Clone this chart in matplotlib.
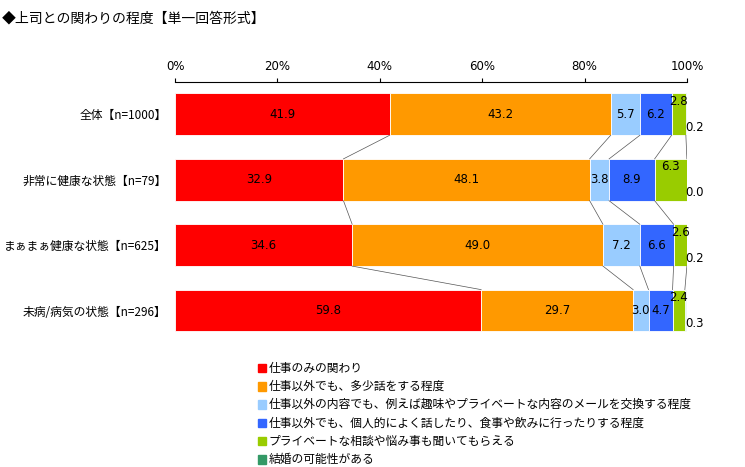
import matplotlib
matplotlib.use("Agg")
import numpy as np
from matplotlib import pyplot as plt
from matplotlib.patches import Rectangle

plt.rcParams["font.family"] = "Noto Sans CJK JP"

groups = ["全体【n=1000】", "非常に健康な状態【n=79】", "まぁまぁ健康な状態【n=625】", "未病/病気の状態【n=296】"]
series = ["仕事のみの関わり",
          "仕事以外でも、多少話をする程度",
          "仕事以外の内容でも、例えば趣味やプライベートな内容のメールを交換する程度",
          "仕事以外でも、個人的によく話したり、食事や飲みに行ったりする程度",
          "プライベートな相談や悩み事も聞いてもらえる",
          "結婚の可能性がある"]
values = np.array([
    [41.9, 43.2, 5.7, 6.2, 2.8, 0.2],
    [32.9, 48.1, 3.8, 8.9, 6.3, 0.0],
    [34.6, 49.0, 7.2, 6.6, 2.6, 0.2],
    [59.8, 29.7, 3.0, 4.7, 2.4, 0.3],
])
colors = ["#FF0000", "#FF9900", "#99CCFF", "#3366FF", "#99CC00", "#339966"]

fig = plt.figure(figsize=(7.45, 4.67), dpi=100)
ax = fig.add_axes([0.235, 0.265, 0.687, 0.56])
h = 0.64
ypos = np.arange(len(groups))
cum = np.zeros(len(groups))
for j in range(len(series)):
    ax.barh(ypos, values[:, j], left=cum, height=h, color=colors[j], edgecolor="white", linewidth=0.6)
    for i in ypos:
        v = values[i, j]
        if j < 4:
            ax.text(cum[i] + v / 2, i, f"{v:.1f}", ha="center", va="center", fontsize=8.5, family="DejaVu Sans")
        elif j == 4:
            ax.text(cum[i] + v / 2, i - 0.2, f"{v:.1f}", ha="center", va="center", fontsize=8.5, family="DejaVu Sans")
        else:
            ax.text(101.5, i + 0.2, f"{v:.1f}", ha="center", va="center", fontsize=8.5, family="DejaVu Sans")
    cum += values[:, j]

# connector lines between bars
bounds = np.cumsum(values, axis=1)
for i in range(len(groups) - 1):
    for j in range(len(series) - 1):
        ax.plot([bounds[i, j], bounds[i + 1, j]], [i + h / 2, i + 1 - h / 2], color="#555555", lw=0.5)

ax.set_xlim(0, 100)
ax.set_ylim(len(groups) - 0.5, -0.5)
ax.xaxis.tick_top()
ax.set_xticks(np.arange(0, 101, 20))
ax.set_xticklabels([f"{t}%" for t in range(0, 101, 20)], fontsize=8.5, family="DejaVu Sans")
ax.set_yticks(ypos)
ax.set_yticklabels(groups, fontsize=8.5)
ax.tick_params(axis="y", length=0, pad=6)
ax.tick_params(axis="x", length=3)
for s in ["right", "bottom", "left"]:
    ax.spines[s].set_visible(False)

fig.text(0.003, 0.975, "◆上司との関わりの程度【単一回答形式】", fontsize=10, va="top")

for j, name in enumerate(series):
    y = 1 - (368 + j * 18.3) / 467
    fig.patches.append(Rectangle((0.346, y - 0.009), 0.011, 0.018, transform=fig.transFigure, color=colors[j]))
    fig.text(0.36, y, name, fontsize=8.5, va="center")

fig.savefig("out.png", dpi=100)
